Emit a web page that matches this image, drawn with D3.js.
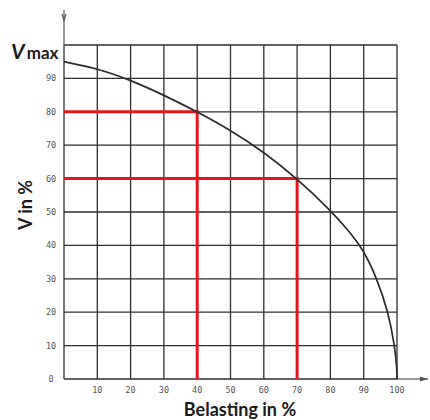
<!DOCTYPE html>
<html lang="nl">
<head>
<meta charset="utf-8">
<title>Vmax - Belasting</title>
<script src="https://cdn.jsdelivr.net/npm/d3@7"></script>
<style>
  body { margin: 0; background: #fff; }
  .grid line { stroke: #2e2e2e; stroke-width: 1.3; }
  .tick-label { font-family: "DejaVu Sans Mono", monospace; font-size: 8.5px; fill: #555; }
  .title { font-family: Lato, "Open Sans", sans-serif; font-weight: bold; fill: #1a1a1a; }
</style>
</head>
<body>
<script>
// values
var loadPct  = [0, 10, 20, 30, 40, 50, 60, 70, 80, 85, 90, 94, 97.4, 99.3, 100, 100];
var vmaxPct  = [95, 93, 89.5, 85, 80, 74.5, 68, 60, 50.5, 45, 38.6, 30, 20, 10, 3, 0];
var markLoad = [40, 70];
var markV    = [80, 60];
var xTicks = [10, 20, 30, 40, 50, 60, 70, 80, 90, 100];
var yTicks = [0, 10, 20, 30, 40, 50, 60, 70, 80, 90];
var gridVals = [0, 10, 20, 30, 40, 50, 60, 70, 80, 90, 100];

var w = 430, h = 420;
var x = d3.scaleLinear().domain([0, 100]).range([64, 397]);
var y = d3.scaleLinear().domain([0, 100]).range([379, 45]);

var svg = d3.select("body").append("svg").attr("width", w).attr("height", h);

// grid
var g = svg.append("g").attr("class", "grid");
g.selectAll("line.v").data(gridVals).enter().append("line")
  .attr("class", "v")
  .attr("x1", function(d) { return x(d); }).attr("x2", function(d) { return x(d); })
  .attr("y1", y(0)).attr("y2", y(100));
g.selectAll("line.h").data(gridVals).enter().append("line")
  .attr("class", "h")
  .attr("x1", x(0)).attr("x2", x(100))
  .attr("y1", function(d) { return y(d); }).attr("y2", function(d) { return y(d); });

// axis extensions with arrows
svg.append("line").attr("x1", x(0)).attr("x2", x(0)).attr("y1", y(100)).attr("y2", 10)
  .attr("stroke", "#555").attr("stroke-width", 1.2);
svg.append("path").attr("d", "M" + (x(0) - 2) + ",14 L" + x(0) + ",20 L" + (x(0) + 2) + ",14")
  .attr("fill", "none").attr("stroke", "#555").attr("stroke-width", 1.2);
svg.append("line").attr("x1", x(100)).attr("x2", 428).attr("y1", y(0)).attr("y2", y(0))
  .attr("stroke", "#555").attr("stroke-width", 1.2);
svg.append("path").attr("d", "M420," + (y(0) - 2.5) + " L428," + y(0) + " L420," + (y(0) + 2.5) + "Z")
  .attr("fill", "#555");

// red reading lines
markLoad.forEach(function(l, i) {
  var v = markV[i];
  svg.append("path")
    .attr("d", "M" + x(0) + "," + y(v) + " H" + x(l) + " V" + y(0))
    .attr("fill", "none").attr("stroke", "#e8141b").attr("stroke-width", 3);
});

// curve
var line = d3.line()
  .x(function(d, i) { return x(loadPct[i]); })
  .y(function(d) { return y(d); })
  .curve(d3.curveBasis);
svg.append("path").datum(vmaxPct).attr("d", line)
  .attr("fill", "none").attr("stroke", "#2b2b2b").attr("stroke-width", 1.7);

// tick labels
svg.selectAll("text.xt").data(xTicks).enter().append("text")
  .attr("class", "tick-label").attr("text-anchor", "middle")
  .attr("x", function(d) { return x(d); }).attr("y", 393)
  .text(function(d) { return d; });
svg.selectAll("text.yt").data(yTicks).enter().append("text")
  .attr("class", "tick-label").attr("text-anchor", "middle")
  .attr("x", 51).attr("y", function(d) { return y(d) + 3; })
  .text(function(d) { return d; });

// titles
var vm = svg.append("text").attr("class", "title").attr("x", 11).attr("y", 59);
vm.append("tspan").attr("font-style", "italic").attr("font-size", 21).text("V");
vm.append("tspan").attr("font-size", 17).attr("dx", 2).text("max");

svg.append("text").attr("class", "title").attr("font-size", 18)
  .attr("text-anchor", "middle")
  .attr("transform", "translate(32,205) rotate(-90)")
  .text("V in %");

svg.append("text").attr("class", "title").attr("font-size", 18)
  .attr("text-anchor", "middle")
  .attr("x", 240).attr("y", 416)
  .text("Belasting in %");
</script>
</body>
</html>
